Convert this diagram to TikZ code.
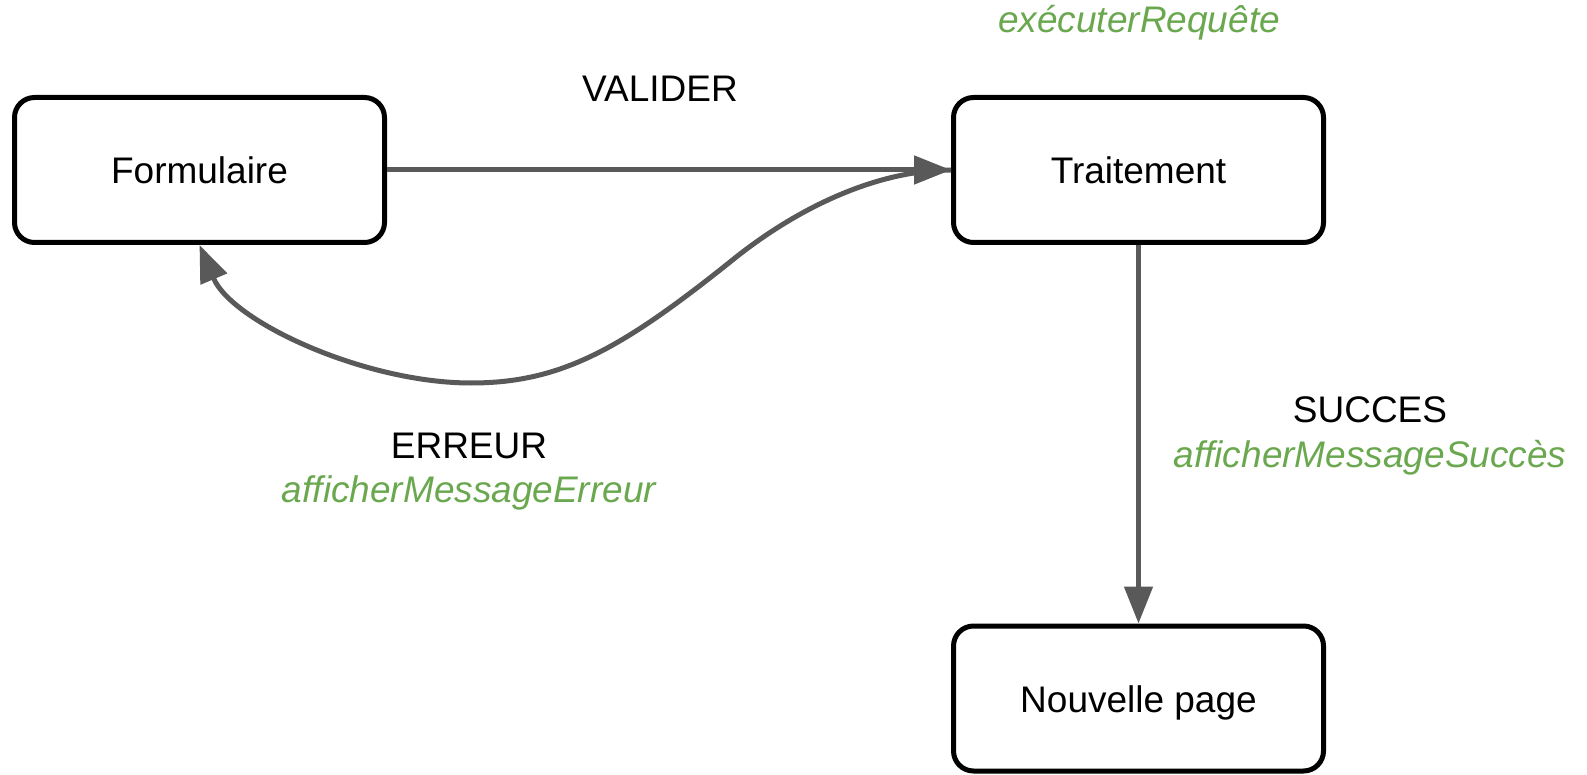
\documentclass[tikz,border=0pt]{standalone}
\usepackage{fontspec}
\setmainfont{Liberation Sans}
\usetikzlibrary{arrows.meta}
\definecolor{edgegrey}{HTML}{595959}
\definecolor{actiongreen}{HTML}{6AA84F}

\begin{document}
\begin{tikzpicture}[x=1pt,y=-1pt,
  state/.style={draw=black, line width=5pt, rounded corners=20pt,
    minimum width=370pt, minimum height=145pt, inner sep=0pt,
    text height=27pt, text depth=0pt, font=\fontsize{37}{44}\selectfont},
  event/.style={anchor=base, inner sep=0pt, font=\fontsize{37}{44}\selectfont},
  action/.style={anchor=base, inner sep=0pt, text=actiongreen,
    font=\fontsize{37}{44}\selectfont\itshape},
  flow/.style={draw=edgegrey, line width=5pt,
    -{Triangle[length=37pt,width=28pt]}}]

\useasboundingbox (0,0) rectangle (1587,775);

% states
\node[state] (F) at (199.5,170) {Formulaire};
\node[state] (T) at (1138.5,170) {Traitement};
\node[state] (N) at (1138.5,698.5) {Nouvelle page};

% transitions
\draw[flow] (F.east) -- (T.west);
\draw[flow] (T.south) -- (N.north);
\draw[flow] (T.west) .. controls (880,170) and (800,205) .. (730,262)
  .. controls (620,350) and (560,383) .. (471,383)
  .. controls (365,383) and (232,322) .. (F.south);

% events and actions
\node[action] (entry) at (1139,33) {exécuterRequête};
\node[event] (validate) at (660,102) {VALIDER};
\node[event] (err) at (469,458) {ERREUR};
\node[action] (erract) at (469,502) {afficherMessageErreur};
\node[event] (ok) at (1370,422) {SUCCES};
\node[action] (okact) at (1370,467) {afficherMessageSuccès};
\end{tikzpicture}
\end{document}
